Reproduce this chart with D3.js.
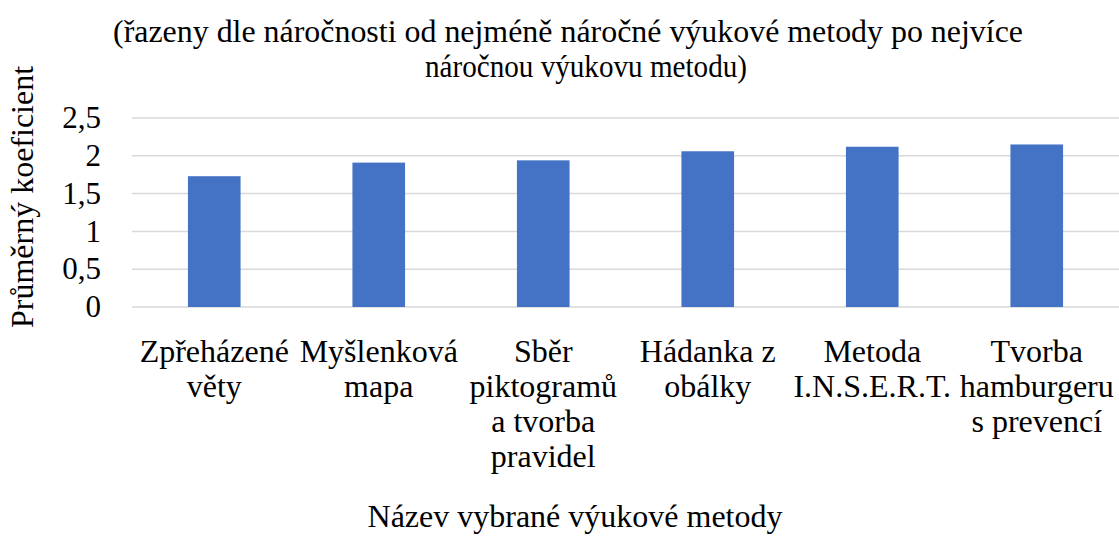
<!DOCTYPE html>
<html><head><meta charset="utf-8">
<script src="https://cdn.jsdelivr.net/npm/d3@7"></script>
<style>body{margin:0;background:#fff}svg{display:block}</style>
</head><body><svg id="c" width="1119" height="536"></svg>
<script>
const categories = [
  ["Zpřeházené","věty"],
  ["Myšlenková","mapa"],
  ["Sběr","piktogramů","a tvorba","pravidel"],
  ["Hádanka z","obálky"],
  ["Metoda","I.N.S.E.R.T."],
  ["Tvorba","hamburgeru","s prevencí"]
];
const values = [1.73, 1.91, 1.94, 2.06, 2.12, 2.15];
const yTicks = [0, 0.5, 1, 1.5, 2, 2.5];
const titleLines = ["(řazeny dle náročnosti od nejméně náročné výukové metody po nejvíce","náročnou výukovu metodu)"];
const yTitle = "Průměrný koeficient";
const xTitle = "Název vybrané výukové metody";

const FONT = '"Liberation Serif", "Tinos", "Times New Roman", serif';
const svg = d3.select("#c").style("font-family", FONT);
const m = {left:132, right:1119, top:118, bottom:307};
const x = d3.scaleBand().domain(d3.range(values.length)).range([m.left, m.right]).paddingInner(0.68).paddingOuter(0.34);
const y = d3.scaleLinear().domain([0, 2.5]).range([m.bottom, m.top]);

// gridlines
svg.append("g").selectAll("line").data(yTicks).join("line")
  .attr("x1", m.left).attr("x2", m.right)
  .attr("y1", d=>y(d)).attr("y2", d=>y(d))
  .attr("stroke", "#d9d9d9").attr("stroke-width", 1.5);

// y tick labels
svg.append("g").selectAll("text").data(yTicks).join("text")
  .style("font-family", FONT)
  .attr("x", 101).attr("y", d=>y(d)).attr("dy", "0.33em")
  .attr("text-anchor","end").attr("font-size", 31)
  .text(d=>String(d).replace(".", ","));

// bars
svg.append("g").selectAll("rect").data(values).join("rect")
  .attr("x", (d,i)=>x(i)).attr("width", x.bandwidth())
  .attr("y", d=>y(d)).attr("height", d=>y(0)-y(d))
  .attr("fill", "#4472c4");

// x labels
const xl = svg.append("g").selectAll("text").data(categories).join("text")
  .style("font-family", FONT)
  .attr("text-anchor","middle").attr("font-size", 32)
  .attr("x", (d,i)=>x(i)+x.bandwidth()/2).attr("y", 362);
xl.selectAll("tspan").data(d=>d).join("tspan")
  .attr("x", function(){return this.parentNode.getAttribute("x");})
  .attr("dy", (d,i)=>i===0?0:35).text(d=>d);

// title
const tCenters = [568, 586];
const tWidths = [910, 322];
svg.append("g").selectAll("text").data(titleLines).join("text")
  .style("font-family", FONT)
  .attr("x", (d,i)=>tCenters[i]).attr("y", (d,i)=>42+i*35)
  .attr("text-anchor","middle").attr("font-size", 31)
  .attr("textLength", (d,i)=>tWidths[i]).attr("lengthAdjust","spacingAndGlyphs")
  .text(d=>d);

// y title
svg.append("text").style("font-family", FONT).attr("transform","translate(33,197) rotate(-90)")
  .attr("text-anchor","middle").attr("font-size", 32).text(yTitle);

// x title
svg.append("text").style("font-family", FONT).attr("x", 575).attr("y", 527)
  .attr("text-anchor","middle").attr("font-size", 32).text(xTitle);
</script></body></html>
